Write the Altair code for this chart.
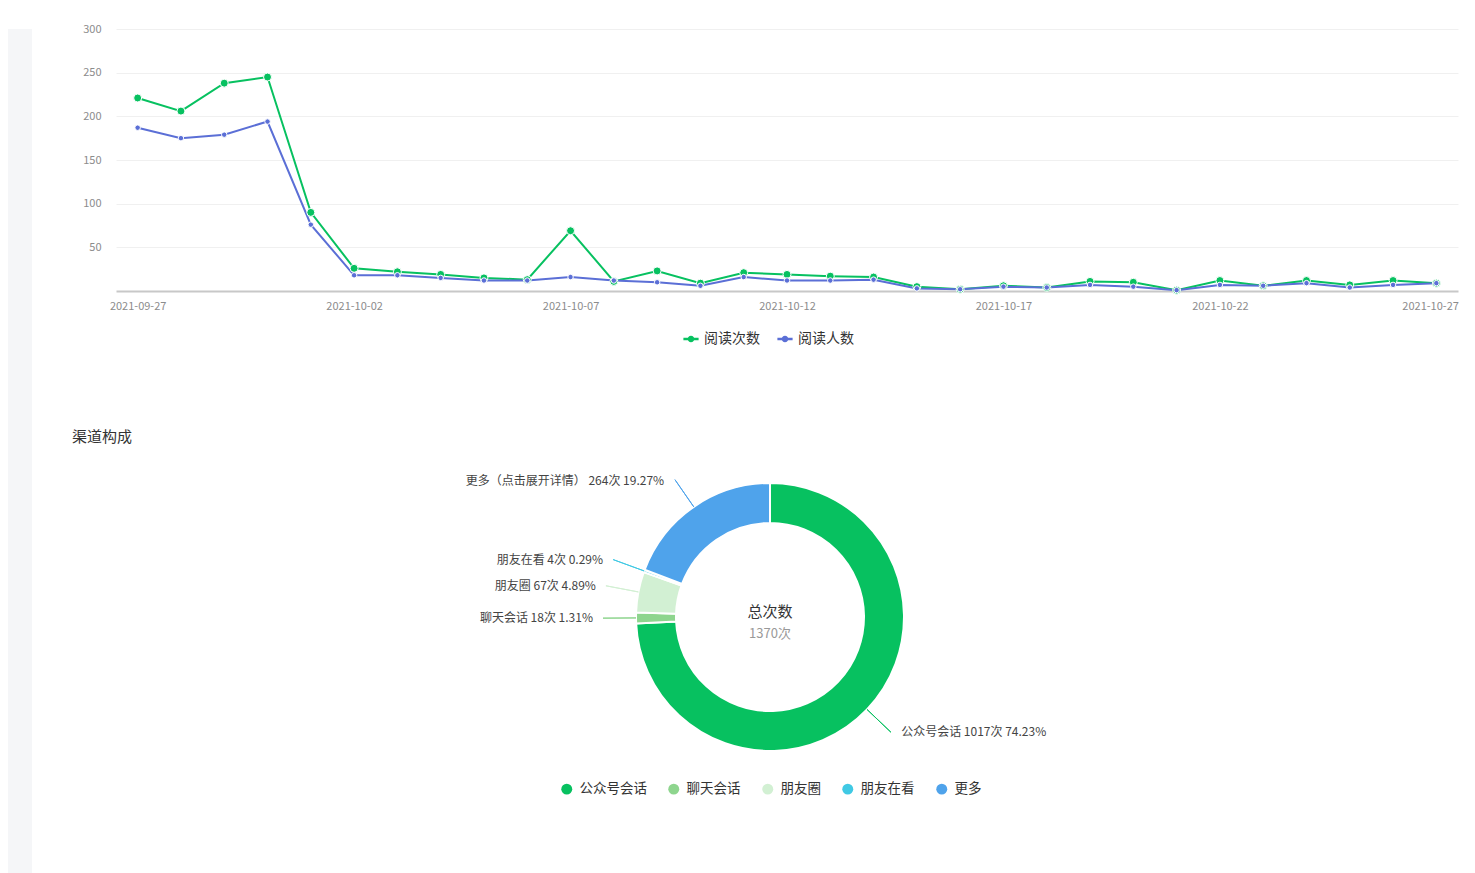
import altair as alt
import pandas as pd

FONT = "Noto Sans CJK SC"

# ---------------- line chart data ----------------
dates = ["2021-09-27", "2021-09-28", "2021-09-29", "2021-09-30", "2021-10-01",
         "2021-10-02", "2021-10-03", "2021-10-04", "2021-10-05", "2021-10-06",
         "2021-10-07", "2021-10-08", "2021-10-09", "2021-10-10", "2021-10-11",
         "2021-10-12", "2021-10-13", "2021-10-14", "2021-10-15", "2021-10-16",
         "2021-10-17", "2021-10-18", "2021-10-19", "2021-10-20", "2021-10-21",
         "2021-10-22", "2021-10-23", "2021-10-24", "2021-10-25", "2021-10-26",
         "2021-10-27"]
reads = [221, 206, 238, 245, 90, 26, 22, 19, 15, 13, 69, 11, 23, 9, 21, 19, 17, 16,
         5, 2, 6, 4, 11, 10, 1, 12, 6, 12, 7, 12, 9]
readers = [187, 175, 179, 194, 76, 18, 18, 15, 12, 12, 16, 12, 10, 6, 16, 12, 12, 13,
           3, 2, 5, 4, 7, 5, 1, 7, 6, 9, 4, 7, 9]
x_ticks = ["2021-09-27", "2021-10-02", "2021-10-07", "2021-10-12", "2021-10-17",
           "2021-10-22", "2021-10-27"]
y_ticks = [50, 100, 150, 200, 250, 300]
series = ["阅读次数", "阅读人数"]
series_colors = ["#07C160", "#5B6FD6"]

# ---------------- donut data ----------------
channels = ["公众号会话", "聊天会话", "朋友圈", "朋友在看", "更多"]
channel_labels = ["公众号会话", "聊天会话", "朋友圈", "朋友在看", "更多（点击展开详情）"]
channel_counts = [1017, 18, 67, 4, 264]
channel_colors = ["#07C160", "#8ED58E", "#D2F0D3", "#40C9E4", "#4FA3EB"]
center_title = "总次数"
section_title = "渠道构成"

line_df = pd.DataFrame({
    "date": dates * 2,
    "series": [series[0]] * len(dates) + [series[1]] * len(dates),
    "value": reads + readers,
})

pie_df = pd.DataFrame({
    "cat": channels,
    "label": channel_labels,
    "count": channel_counts,
    "idx": list(range(len(channels))),
})
center_df = pd.DataFrame({"t1": [center_title], "t2": [f"{sum(channel_counts)}次"]})

last_tick = x_ticks[-1]
x_enc = alt.X(
    "date:O", sort=dates,
    scale=alt.Scale(type="point", padding=0.5),
    axis=alt.Axis(
        values=x_ticks, labelAngle=0, ticks=False, tickSize=0, grid=False, title=None,
        domainColor="#c8c8c8", domainWidth=2, labelColor="#8c8c8c", labelFontSize=11,
        labelPadding=9, labelFont=FONT,
        labelAlign=alt.condition(f"datum.value === '{last_tick}'", alt.value("right"), alt.value("center")),
        labelOffset=alt.condition(f"datum.value === '{last_tick}'", alt.value(22), alt.value(0)),
    ),
)
y_enc = alt.Y(
    "value:Q", scale=alt.Scale(domain=[0, 300], nice=False),
    axis=alt.Axis(values=y_ticks, domain=False, ticks=False, tickSize=0, title=None,
                  labelPadding=15, gridColor="#f0f0f0", labelColor="#8c8c8c",
                  labelFontSize=11, labelFont=FONT, minExtent=42, maxExtent=42),
)
legend_icon = "M-1,-0.08L1,-0.08L1,0.08L-1,0.08Z M0.38,0A0.38,0.38 0 1,1 -0.38,0A0.38,0.38 0 1,1 0.38,0Z"
top_legend = alt.Legend(
    orient="none", legendX=567, legendY=302, direction="horizontal", title=None,
    symbolType=legend_icon, symbolSize=196, symbolStrokeWidth=1.2,
    labelFontSize=14, labelColor="#333333", labelFont=FONT,
    columnPadding=15, labelOffset=5, padding=0,
)
top_color = alt.Color("series:N", scale=alt.Scale(domain=series, range=series_colors),
                      legend=top_legend)

base = alt.Chart(line_df).encode(x=x_enc, y=y_enc, color=top_color)
lines = base.mark_line(strokeWidth=2)
points = base.mark_point(filled=True, opacity=1, stroke="white", strokeWidth=1).encode(
    size=alt.condition(f"datum.series === '{series[0]}'", alt.value(64), alt.value(30)),
)
top = alt.layer(lines, points).properties(
    width=1342, height=262,
    title=alt.TitleParams(text=" ", fontSize=10, offset=5),
)

# ---------------- donut ----------------
pie_scale = alt.Scale(domain=channels, range=channel_colors)
pie_base = alt.Chart(pie_df).transform_joinaggregate(
    total="sum(count)"
).transform_window(
    cum="sum(count)", sort=[alt.SortField("idx")], frame=[None, 0]
).transform_calculate(
    start="2 * PI * (datum.cum - datum.count) / datum.total",
    end="2 * PI * datum.cum / datum.total",
).transform_calculate(
    mid="(datum.start + datum.end) / 2",
    mid2="(datum.start + datum.end) / 2 + 0.000001",
    txt="datum.label + ' ' + datum.count + '次 ' + format(datum.count / datum.total, '.2%')",
).transform_calculate(
    ltxt="datum.mid >= PI ? datum.txt : ''",
    rtxt="datum.mid < PI ? datum.txt : ''",
)

arcs = pie_base.mark_arc(radius=134, radius2=94, stroke="white", strokeWidth=2).encode(
    theta=alt.Theta("start:Q", scale=None),
    theta2="end:Q",
    color=alt.Color(
        "cat:N", scale=pie_scale, sort=channels,
        legend=alt.Legend(
            orient="none", legendX=444, legendY=315, direction="horizontal", title=None,
            symbolType="circle", symbolSize=120, symbolStrokeWidth=0,
            labelFontSize=13.5, labelColor="#333333", labelFont=FONT,
            columnPadding=20, labelOffset=6, padding=0,
        ),
    ),
)
leaders = pie_base.mark_arc(radius=167, radius2=134, fillOpacity=0, strokeWidth=1).encode(
    theta=alt.Theta("mid:Q", scale=None),
    theta2="mid2:Q",
    stroke=alt.Stroke("cat:N", scale=pie_scale, legend=None),
)
left_labels = pie_base.mark_text(
    radius=165, align="right", baseline="middle", dx=-12, fontSize=12,
    color="#444444", font=FONT,
).encode(theta=alt.Theta("mid:Q", scale=None), text="ltxt:N")
right_labels = pie_base.mark_text(
    radius=166, align="left", baseline="middle", dx=11, fontSize=12,
    color="#444444", font=FONT,
).encode(theta=alt.Theta("mid:Q", scale=None), text="rtxt:N")

c1 = alt.Chart(center_df).mark_text(fontSize=15, color="#333333", font=FONT, dy=-5).encode(text="t1:N")
c2 = alt.Chart(center_df).mark_text(fontSize=13, color="#999999", font=FONT, dy=17).encode(text="t2:N")

bottom = alt.layer(arcs, leaders, left_labels, right_labels, c1, c2).properties(
    width=1308, height=300,
    title=alt.TitleParams(text=section_title, anchor="start", dx=-44, fontSize=15,
                          fontWeight="normal", color="#333333", font=FONT, offset=22),
)

sidebar = alt.Chart(pd.DataFrame({"a": [0]})).mark_point(opacity=0).properties(
    width=24, height=855, view=alt.ViewBackground(fill="#F5F6F8", strokeWidth=0)
)

main = alt.vconcat(top, bottom, spacing=84).resolve_scale(
    color="independent", stroke="independent"
)
chart = alt.hconcat(sidebar, main, spacing=40).resolve_scale(
    color="independent", stroke="independent"
).properties(padding=0).configure(font=FONT).configure_view(strokeWidth=0, stroke="transparent")

chart.save("out.html", embed_options={"renderer": "svg", "actions": False})
